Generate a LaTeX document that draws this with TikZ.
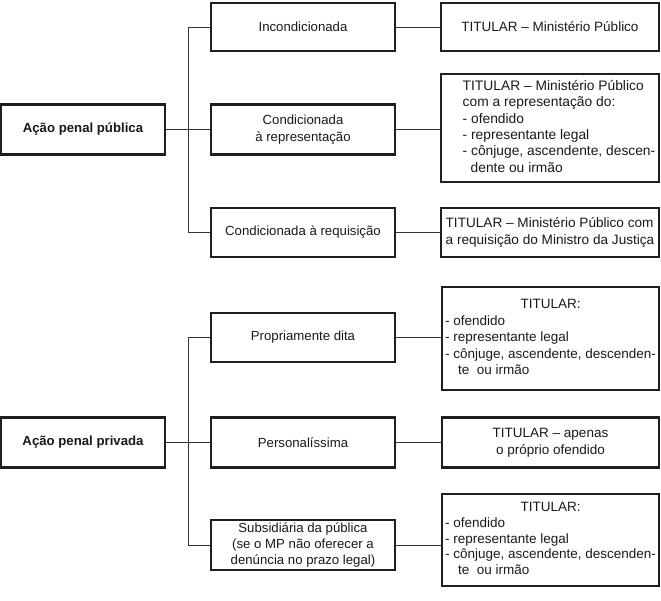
\documentclass[tikz,border=0pt]{standalone}
\usepackage{fontspec}
\setmainfont{Liberation Sans}
\begin{document}
\begin{tikzpicture}[x=1pt,y=-1pt,
  base/.style={draw=black!88, line width=2.2pt, inner sep=0pt, text=black!90,
    font=\fontsize{13.2}{16.5}\selectfont},
  lbox/.style={base, minimum width=164pt, minimum height=50pt, font=\fontsize{13.2}{16.5}\selectfont\bfseries},
  mbox/.style={base, minimum width=184pt, minimum height=49pt, align=center},
  rbox/.style={base, minimum width=218pt, minimum height=48pt, font=\fontsize{13.5}{16.5}\selectfont},
  conn/.style={draw=black!80, line width=1pt}]
\useasboundingbox (0,0) rectangle (661,600);

% ---- Ação penal pública
\node[lbox] (pub) at (83,129.5) {Ação penal pública};
\node[mbox, minimum height=48pt] (b1) at (303,27) {Incondicionada};
\node[mbox, minimum height=50pt] (b2) at (303,129.5) {Condicionada\\à representação};
\node[mbox] (b3) at (303,232.5) {Condicionada à requisição};

\node[rbox] (c1) at (550,27) {TITULAR – Ministério Público};
\node[rbox, minimum height=108pt, font=\fontsize{13.8}{16.4}\selectfont] (c2) at (550,128)
  {\hspace*{18pt}\raisebox{-4pt}{\begin{tabular}{@{}l@{}}TITULAR – Ministério Público\\ com a representação do:\\ - ofendido\\ - representante legal\\ - cônjuge, ascendente, descen-\\ \hspace*{8pt}dente ou irmão\end{tabular}}};
\node[rbox, minimum height=49pt, font=\fontsize{13.6}{16.5}\selectfont] (c3) at (550,232.5)
  {\begin{tabular}{@{}l@{}}TITULAR – Ministério Público com\\ a requisição do Ministro da Justiça\end{tabular}};

% ---- Ação penal privada
\node[lbox] (pri) at (83,442.5) {Ação penal privada};
\node[mbox] (d1) at (303,337.5) {Propriamente dita};
\node[mbox, minimum height=50pt] (d2) at (303,442.5) {Personalíssima};
\node[mbox, minimum height=50pt, font=\fontsize{13.2}{16}\selectfont] (d3) at (303,545)
  {Subsidiária da pública\\(se o MP não oferecer a\\denúncia no prazo legal)};

\node[rbox, minimum width=217pt, minimum height=103pt] (e1) at (550.5,338.5)
  {\raisebox{-2.5pt}{\begin{tabular}{@{}l@{}}\multicolumn{1}{@{}c@{}}{TITULAR:}\\ - ofendido\\ - representante legal\\ - cônjuge, ascendente, descenden-\\ \hspace*{13pt}te\ \ ou irmão\end{tabular}}};
\node[rbox, minimum width=217pt, minimum height=50pt, align=center] (e2) at (550.5,442.5)
  {TITULAR – apenas\\o próprio ofendido};
\node[rbox, minimum width=217pt, minimum height=92pt, font=\fontsize{13.5}{15.6}\selectfont] (e3) at (550.5,540)
  {\raisebox{-3pt}{\begin{tabular}{@{}l@{}}\multicolumn{1}{@{}c@{}}{TITULAR:}\\ - ofendido\\ - representante legal\\ - cônjuge, ascendente, descenden-\\ \hspace*{13pt}te\ \ ou irmão\end{tabular}}};

% ---- connectors
\coordinate (sp) at (188,0);
\draw[conn] (b1.west) -- (b1.west -| sp) -- (b3.west -| sp) -- (b3.west);
\draw[conn] (pub.east) -- (b2.west);
\draw[conn] (b1.east) -- (c1.west);
\draw[conn] (b2.east) -- (c2.west |- b2.east);
\draw[conn] (b3.east) -- (c3.west);

\draw[conn] (d1.west) -- (d1.west -| sp) -- (d3.west -| sp) -- (d3.west);
\draw[conn] (pri.east) -- (d2.west);
\draw[conn] (d1.east) -- (e1.west |- d1.east);
\draw[conn] (d2.east) -- (e2.west);
\draw[conn] (d3.east) -- (e3.west |- d3.east);
\end{tikzpicture}
\end{document}
